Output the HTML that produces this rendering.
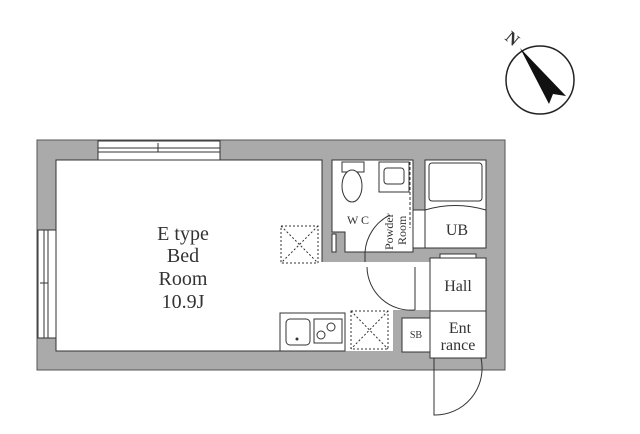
<!DOCTYPE html>
<html><head><style>body{margin:0;background:#fff}svg{display:block}text{font-family:"Liberation Serif",serif;fill:#333}</style></head><body>
<svg width="640" height="434" viewBox="0 0 640 434" xmlns="http://www.w3.org/2000/svg">
<!-- compass -->
<circle cx="540" cy="80" r="34" fill="#fff" stroke="#222" stroke-width="1.5"/>
<polygon points="520,48 566,96 553,94 549,104" fill="#111"/>
<text x="507" y="45" font-size="17" font-weight="bold" transform="rotate(40 514 38)" fill="#111">N</text>
<!-- walls -->
<rect x="37" y="140" width="468" height="230" fill="#aaa" stroke="#555" stroke-width="1"/>
<rect x="56" y="160" width="266" height="191" fill="#fff" stroke="#333" stroke-width="1"/>
<!-- corridor floor -->
<rect x="322" y="262" width="108" height="48" fill="#fff"/>
<rect x="322" y="310" width="71" height="41" fill="#fff"/>
<line x1="322" y1="262" x2="322" y2="351" stroke="#fff" stroke-width="2"/>
<line x1="322" y1="160" x2="322" y2="262" stroke="#333"/>
<!-- WC -->
<path d="M332,160 H413 V252 H345 V232 H332 Z" fill="#fff" stroke="#333"/>
<!-- UB -->
<rect x="425" y="160" width="61" height="88" fill="#fff" stroke="#333"/>
<rect x="429" y="163" width="53" height="38" rx="3" fill="#fff" stroke="#333"/>
<path d="M425,210 Q455,201 486,210" fill="none" stroke="#333"/>
<rect x="413" y="210" width="12" height="38" fill="#fff" stroke="#333"/>
<!-- Hall / Entrance -->
<rect x="430" y="258" width="56" height="53" fill="#fff" stroke="#333"/>
<rect x="440" y="254" width="36" height="4" fill="#fff" stroke="#333"/>
<rect x="430" y="311" width="56" height="47" fill="#fff" stroke="#333"/>
<rect x="402" y="318" width="28" height="34" fill="#fff" stroke="#333"/>
<!-- windows -->
<rect x="98" y="141" width="122" height="19" fill="#fff" stroke="#333"/>
<line x1="98" y1="148" x2="220" y2="148" stroke="#333"/><line x1="98" y1="152" x2="220" y2="152" stroke="#333"/>
<line x1="158" y1="143" x2="158" y2="152" stroke="#333"/>
<rect x="38" y="230" width="18" height="108" fill="#fff" stroke="#333"/>
<line x1="44" y1="230" x2="44" y2="338" stroke="#333"/><line x1="48" y1="230" x2="48" y2="338" stroke="#333"/>
<line x1="40" y1="283" x2="48" y2="283" stroke="#333"/>
<!-- toilet, sink -->
<rect x="342" y="162" width="22" height="10" fill="#fff" stroke="#333"/>
<ellipse cx="352" cy="186" rx="10" ry="16" fill="#fff" stroke="#333"/>
<rect x="379" y="162" width="30" height="30" fill="#fff" stroke="#333"/>
<rect x="384" y="168" width="20" height="16" rx="3" fill="#fff" stroke="#333"/>
<line x1="410" y1="162" x2="410" y2="228" stroke="#333" stroke-dasharray="3,2"/>
<rect x="332" y="234" width="4" height="18" fill="#fff" stroke="#333"/>
<!-- doors -->
<path d="M365,262 V252 A45,45 0 0 1 390,215" fill="none" stroke="#333"/>
<path d="M367,267 A44,44 0 0 0 415,310" fill="none" stroke="#333"/>
<line x1="415" y1="267" x2="415" y2="310" stroke="#333"/>
<path d="M434,358 V415 A47,47 0 0 0 481,358" fill="none" stroke="#333"/>
<!-- kitchen -->
<rect x="280" y="313" width="65" height="38" fill="#fff" stroke="#333"/>
<rect x="286" y="319" width="24" height="26" rx="4" fill="#fff" stroke="#333"/>
<circle cx="297" cy="339" r="1.5" fill="#333"/>
<rect x="314" y="319" width="28" height="24" fill="#fff" stroke="#333"/>
<circle cx="321" cy="335" r="4" fill="none" stroke="#333"/><circle cx="331" cy="327" r="4" fill="none" stroke="#333"/>
<!-- X boxes -->
<g fill="none" stroke="#333" stroke-dasharray="2,2">
<rect x="281" y="226" width="37" height="37"/><path d="M281,226 L318,263 M318,226 L281,263"/>
<rect x="351" y="311" width="37" height="38"/><path d="M351,311 L388,349 M388,311 L351,349"/>
</g>
<!-- labels -->
<g font-size="20" text-anchor="middle">
<text x="183" y="240">E type</text><text x="183" y="262">Bed</text><text x="183" y="285">Room</text><text x="183" y="308">10.9J</text>
</g>
<text x="358" y="224" font-size="12" text-anchor="middle">W C</text>
<text x="457" y="235" font-size="16" text-anchor="middle">UB</text>
<text x="458" y="291" font-size="16" text-anchor="middle">Hall</text>
<text x="460" y="333" font-size="16" text-anchor="middle">Ent</text>
<text x="458" y="350" font-size="16" text-anchor="middle">rance</text>
<text x="416" y="338" font-size="10" text-anchor="middle">SB</text>
<text transform="translate(393,250) rotate(-90)" font-size="12">Powder</text>
<text transform="translate(406,245) rotate(-90)" font-size="12">Room</text>
</svg>
</body></html>
